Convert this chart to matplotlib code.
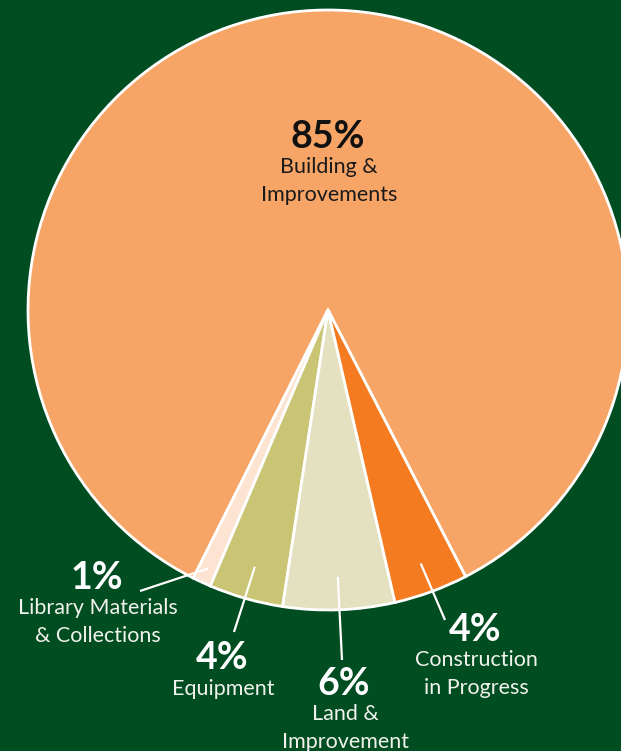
import numpy as np
import matplotlib.pyplot as plt

# capital asset breakdown, in percent
categories = ["Building &\nImprovements", "Library Materials\n& Collections",
              "Equipment", "Land &\nImprovement", "Construction\nin Progress"]
shares = [85, 1, 4, 6, 4]
colors = ["#F7A566", "#FCE3D2", "#C9C574", "#E4E1C1", "#F47B20"]

bg = "#004D22"
plt.rcParams['font.family'] = ['Lato', 'DejaVu Sans']

fig = plt.figure(figsize=(6.21, 7.51), dpi=100, facecolor=bg)
ax = fig.add_axes([0, 0, 1, 1])
ax.set_facecolor(bg)

cx, cy, r = 328, 441, 300
wedges, _ = ax.pie(shares, colors=colors, startangle=-62.7, center=(cx, cy),
                   radius=r, wedgeprops=dict(edgecolor="white", linewidth=2))
ax.set_xlim(0, 621)
ax.set_ylim(0, 751)
ax.set_aspect("equal")
ax.axis("off")

pct_size, txt_size, spacing = 27, 15.5, 1.45


def label(x, y, i, pct_color, txt_color):
    ax.text(x, y, f"{shares[i]}%", ha="center", va="center", fontsize=pct_size,
            fontweight="bold", color=pct_color)
    nlines = categories[i].count("\n") + 1
    ax.text(x + 1, y - 31 - (nlines - 1) * 13, categories[i], ha="center",
            va="center", fontsize=txt_size, fontweight="normal",
            color=txt_color, linespacing=spacing)


# big label inside the main slice
label(cx, 614, 0, "#111111", "#1a1a1a")

# outside labels: (percent position, leader end, leader radius fraction)
outer = {
    1: ((97, 173), (140, 160), 0.95),
    2: ((222, 93), (234, 119), 0.89),
    3: ((344, 67), (342, 91), 0.89),
    4: ((475, 121), (445, 131), 0.9),
}
for i, ((tx, ty), (lx, ly), frac) in outer.items():
    w = wedges[i]
    mid = np.deg2rad((w.theta1 + w.theta2) / 2)
    px, py = cx + frac * r * np.cos(mid), cy + frac * r * np.sin(mid)
    ax.plot([px, lx], [py, ly], color="white", lw=1.6, solid_capstyle="butt")
    label(tx, ty, i, "white", "#F2F2EC")

fig.savefig("out.png", dpi=100, facecolor=bg)
